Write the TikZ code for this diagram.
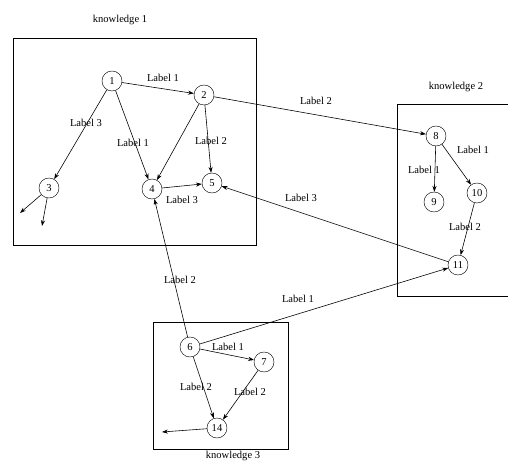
\documentclass[tikz,border=0pt]{standalone}
\usepackage{fontspec}
\setmainfont{Liberation Serif}
\usetikzlibrary{arrows.meta}
\tikzset{%
    vtx/.style={circle,draw,inner sep=0pt,minimum size=0.6cm,font=\fontsize{9}{10}\selectfont},
    lbl/.style={inner sep=1pt,font=\fontsize{9}{10}\selectfont},
    edge/.style={-{Stealth[length=5pt,width=3.5pt]},line width=0.5pt},
    kbox/.style={draw,line width=0.5pt}
}

\begin{document}
\begin{tikzpicture}[x=0.03cm,y=-0.03cm]
        \useasboundingbox (0,0) rectangle (508,461);
        \draw[kbox] (13,38) rectangle (256,245);
        \draw[kbox] (397,104) rectangle (512,296);
        \draw[kbox] (153,322) rectangle (288,449);
        \node[lbl] (k1) at (120,20) {knowledge 1};
        \node[lbl] (k2) at (456,87) {knowledge 2};
        \node[lbl,inner sep=0pt] (k3) at (233,455.5) {knowledge 3};
        \node[vtx] (n1) at (112,81) {1};
        \node[vtx] (n2) at (204,95) {2};
        \node[vtx] (n3) at (49,188) {3};
        \node[vtx] (n4) at (152,189) {4};
        \node[vtx] (n5) at (212,183) {5};
        \node[vtx] (n8) at (436,136) {8};
        \node[vtx] (n9) at (434,202) {9};
        \node[vtx] (n10) at (477,193) {10};
        \node[vtx] (n11) at (458,265) {11};
        \node[vtx] (n6) at (190,347) {6};
        \node[vtx] (n7) at (264,362) {7};
        \node[vtx] (n14) at (217,428) {14};
        \coordinate (e3a) at (20,213);
        \coordinate (e3b) at (42,226);
        \coordinate (e14) at (162,432);
        \draw[edge] (n1) -- (n2);
        \draw[edge] (n1) -- (n3);
        \draw[edge] (n1) -- (n4);
        \draw[edge] (n2) -- (n4);
        \draw[edge] (n2) -- (n5);
        \draw[edge] (n4) -- (n5);
        \draw[edge] (n3) -- (e3a);
        \draw[edge] (n3) -- (e3b);
        \draw[edge] (n2) -- (n8);
        \draw[edge] (n8) -- (n9);
        \draw[edge] (n8) -- (n10);
        \draw[edge] (n10) -- (n11);
        \draw[edge] (n11) -- (n5);
        \draw[edge] (n6) -- (n4);
        \draw[edge] (n6) -- (n11);
        \draw[edge] (n6) -- (n7);
        \draw[edge] (n6) -- (n14);
        \draw[edge] (n7) -- (n14);
        \draw[edge] (n14) -- (e14);
        \node[lbl] (l12) at (163,78) {Label 1};
        \node[lbl] (l13) at (86,123) {Label 3};
        \node[lbl] (l14) at (133,143) {Label 1};
        \node[lbl] (l25) at (211,141) {Label 2};
        \node[lbl] (l45) at (182,200) {Label 3};
        \node[lbl] (l28) at (316,101) {Label 2};
        \node[lbl] (l89) at (424,170) {Label 1};
        \node[lbl] (l810) at (473,150) {Label 1};
        \node[lbl] (l1011) at (465,227) {Label 2};
        \node[lbl] (l115) at (301,198) {Label 3};
        \node[lbl] (l64) at (180,280) {Label 2};
        \node[lbl] (l611) at (298,299) {Label 1};
        \node[lbl] (l67) at (228,347) {Label 1};
        \node[lbl] (l614) at (196,387) {Label 2};
        \node[lbl] (l714) at (250,392) {Label 2};
    \end{tikzpicture}
\end{document}
